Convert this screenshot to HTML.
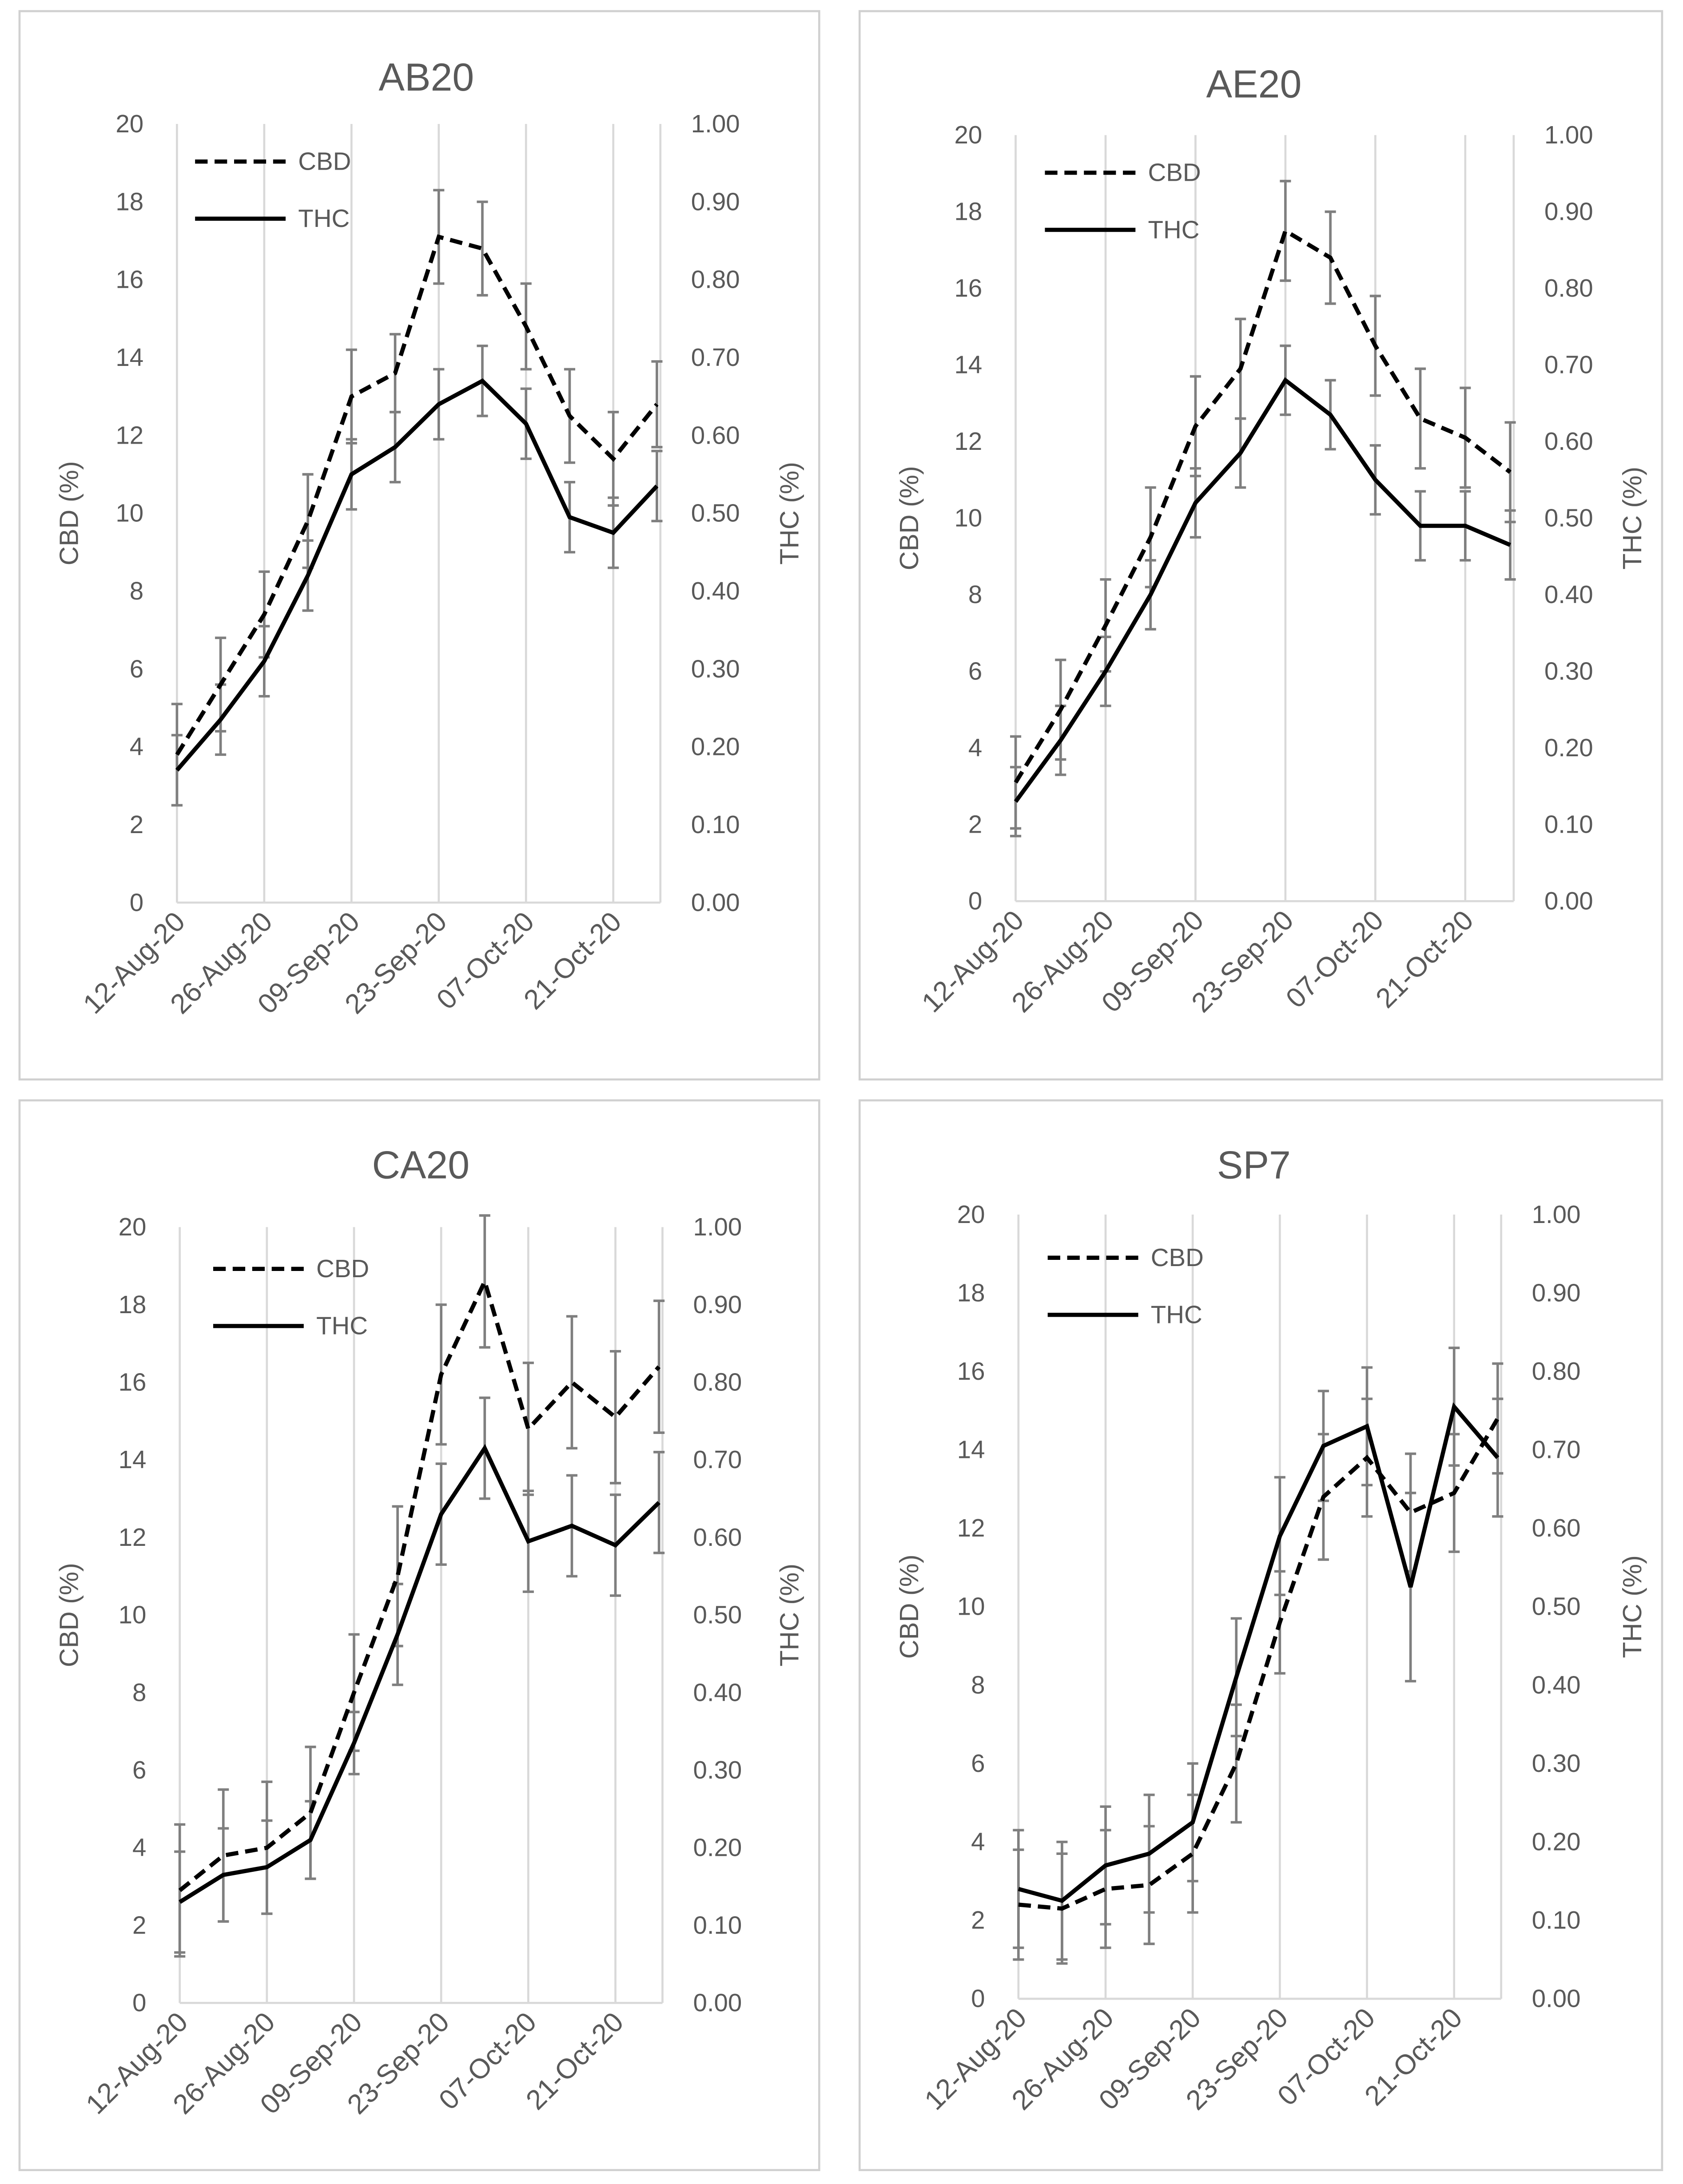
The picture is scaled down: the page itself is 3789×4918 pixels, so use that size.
<!DOCTYPE html>
<html><head><meta charset="utf-8">
<style>
html,body{margin:0;padding:0;background:#fff;}
svg{display:block;font-family:"Liberation Sans",Arial,sans-serif;}
</style></head>
<body>
<svg id="root" width="3789" height="4918" viewBox="0 0 1208 1568" xmlns="http://www.w3.org/2000/svg"></svg>
<script>
// Shared categories
const dates = ["12-Aug-20","19-Aug-20","26-Aug-20","02-Sep-20","09-Sep-20","16-Sep-20","23-Sep-20","30-Sep-20","07-Oct-20","14-Oct-20","21-Oct-20","28-Oct-20"];
const tickLabels = ["12-Aug-20","26-Aug-20","09-Sep-20","23-Sep-20","07-Oct-20","21-Oct-20"];
const cbdTicks = [0,2,4,6,8,10,12,14,16,18,20];
const thcTicks = ["0.00","0.10","0.20","0.30","0.40","0.50","0.60","0.70","0.80","0.90","1.00"];

// AB20
const ab20Cbd = [3.8,5.6,7.4,9.8,13.0,13.6,17.1,16.8,14.8,12.5,11.4,12.8];
const ab20CbdErr = [1.3,1.2,1.1,1.2,1.2,1.0,1.2,1.2,1.1,1.2,1.2,1.1];
const ab20Thc = [0.17,0.235,0.31,0.42,0.55,0.585,0.64,0.67,0.615,0.495,0.475,0.535];
const ab20ThcErr = [0.045,0.045,0.045,0.045,0.045,0.045,0.045,0.045,0.045,0.045,0.045,0.045];
// AE20
const ae20Cbd = [3.1,5.0,7.2,9.5,12.4,13.9,17.5,16.8,14.5,12.6,12.1,11.2];
const ae20CbdErr = [1.2,1.3,1.2,1.3,1.3,1.3,1.3,1.2,1.3,1.3,1.3,1.3];
const ae20Thc = [0.13,0.21,0.30,0.40,0.52,0.585,0.68,0.635,0.55,0.49,0.49,0.465];
const ae20ThcErr = [0.045,0.045,0.045,0.045,0.045,0.045,0.045,0.045,0.045,0.045,0.045,0.045];
// CA20
const ca20Cbd = [2.9,3.8,4.0,4.9,8.0,11.0,16.2,18.6,14.8,16.0,15.1,16.4];
const ca20CbdErr = [1.7,1.7,1.7,1.7,1.5,1.8,1.8,1.7,1.7,1.7,1.7,1.7];
const ca20Thc = [0.13,0.165,0.175,0.21,0.335,0.475,0.63,0.715,0.595,0.615,0.59,0.645];
const ca20ThcErr = [0.065,0.06,0.06,0.05,0.04,0.065,0.065,0.065,0.065,0.065,0.065,0.065];
// SP7
const sp7Cbd = [2.4,2.3,2.8,2.9,3.7,6.0,9.6,12.8,13.8,12.4,12.9,14.8];
const sp7CbdErr = [1.4,1.4,1.5,1.5,1.5,1.5,1.3,1.6,1.5,1.5,1.5,1.4];
const sp7Thc = [0.14,0.125,0.17,0.185,0.225,0.41,0.59,0.705,0.73,0.525,0.755,0.69];
const sp7ThcErr = [0.075,0.075,0.075,0.075,0.075,0.075,0.075,0.07,0.075,0.12,0.075,0.075];

const panels = [
 {name:"AB20", box:[14,8,574,767], x0:127, x1:471.5, yTop:89, yBot:648, title:[306,55], leg:[140,116], cbd:ab20Cbd, cbdE:ab20CbdErr, thc:ab20Thc, thcE:ab20ThcErr},
 {name:"AE20", box:[617,8,576,767], x0:729, x1:1084, yTop:97, yBot:647, title:[900,60], leg:[750,124], cbd:ae20Cbd, cbdE:ae20CbdErr, thc:ae20Thc, thcE:ae20ThcErr},
 {name:"CA20", box:[14,790,574,768], x0:129, x1:473, yTop:881, yBot:1438, title:[302,836], leg:[153,911], cbd:ca20Cbd, cbdE:ca20CbdErr, thc:ca20Thc, thcE:ca20ThcErr},
 {name:"SP7", box:[617,790,576,768], x0:731, x1:1075, yTop:872, yBot:1435, title:[900,836], leg:[752,903], cbd:sp7Cbd, cbdE:sp7CbdErr, thc:sp7Thc, thcE:sp7ThcErr}
];

const NS="http://www.w3.org/2000/svg";
const root=document.getElementById('root');
function mk(tag,attrs,parent,text){
  const e=document.createElementNS(NS,tag);
  for(const k in attrs)e.setAttribute(k,attrs[k]);
  if(text!==undefined)e.textContent=text;
  parent.appendChild(e);return e;
}

panels.forEach(p=>{
  const slug=p.name.toLowerCase();
  const g=mk('g',{},root);
  
  
  const fr=mk('rect',{x:p.box[0],y:p.box[1],width:p.box[2],height:p.box[3],fill:'#fff',stroke:'#d0d0d0','stroke-width':1.5},g);
  
  
  const n=dates.length;
  const step=(p.x1-p.x0)/(n-1);
  const xS=i=>p.x0+i*step;
  const yC=v=>p.yBot-(v/20)*(p.yBot-p.yTop);
  const yT=v=>p.yBot-v*(p.yBot-p.yTop);
  const axisRight=p.x1+2.5;
  for(let i=0;i<n;i+=2){
    const l=mk('line',{x1:xS(i),x2:xS(i),y1:p.yTop,y2:p.yBot,stroke:'#d9d9d9','stroke-width':1.5},g);
    
    
  }
  const ra=mk('line',{x1:axisRight,x2:axisRight,y1:p.yTop,y2:p.yBot,stroke:'#d9d9d9','stroke-width':1.5},g);
  
  
  const xa=mk('line',{x1:p.x0,x2:axisRight,y1:p.yBot,y2:p.yBot,stroke:'#d9d9d9','stroke-width':1.5},g);
  
  
  cbdTicks.forEach(v=>{
    const t=mk('text',{x:p.x0-24,y:yC(v)+6,'text-anchor':'end','font-size':18,fill:'#595959'},g,String(v));
    
    
  });
  thcTicks.forEach((s,i)=>{
    const t=mk('text',{x:axisRight+22,y:yC(i*2)+6,'text-anchor':'start','font-size':18,fill:'#595959'},g,s);
    
    
  });
  tickLabels.forEach((s,k)=>{
    const x=xS(dates.indexOf(s));
    const t=mk('text',{x:x+7,y:p.yBot+15,'text-anchor':'end','font-size':20,fill:'#595959',transform:`rotate(-45 ${x+7} ${p.yBot+15})`},g,s);
    
    
  });
  const my=(p.yTop+p.yBot)/2;
  const lx=p.box[0]+42;
  const at=mk('text',{x:lx,y:my,'text-anchor':'middle','font-size':19,fill:'#595959',transform:`rotate(-90 ${lx} ${my})`},g,'CBD (%)');
  
  
  const rx=p.box[0]+p.box[2]-15;
  const at2=mk('text',{x:rx,y:my,'text-anchor':'middle','font-size':19,fill:'#595959',transform:`rotate(-90 ${rx} ${my})`},g,'THC (%)');
  
  
  const ti=mk('text',{x:p.title[0],y:p.title[1]+10,'text-anchor':'middle','font-size':28,fill:'#595959'},g,p.name);
  
  
  function err(vals,errs,ys,name){
    vals.forEach((v,i)=>{
      const x=xS(i),a=ys(v+errs[i]),b=ys(v-errs[i]);
      const eg=mk('g',{stroke:'#7f7f7f','stroke-width':1.8},g);
      
      
      mk('line',{x1:x,x2:x,y1:a,y2:b},eg);
      mk('line',{x1:x-4,x2:x+4,y1:a,y2:a},eg);
      mk('line',{x1:x-4,x2:x+4,y1:b,y2:b},eg);
    });
  }
  err(p.cbd,p.cbdE,yC,'cbd-error-bar');
  err(p.thc,p.thcE,yT,'thc-error-bar');
  const cl=mk('polyline',{points:p.cbd.map((v,i)=>xS(i)+','+yC(v)).join(' '),fill:'none',stroke:'#000','stroke-width':3,'stroke-dasharray':'9,5'},g);
  
  
  const tl=mk('polyline',{points:p.thc.map((v,i)=>xS(i)+','+yT(v)).join(' '),fill:'none',stroke:'#000','stroke-width':3},g);
  
  
  const [lx0,ly]=p.leg;
  const l1=mk('g',{},g);
  
  
  mk('line',{x1:lx0,x2:lx0+65,y1:ly,y2:ly,stroke:'#000','stroke-width':3,'stroke-dasharray':'9,5'},l1);
  mk('text',{x:lx0+74,y:ly+6,'font-size':18,fill:'#595959'},l1,'CBD');
  const l2=mk('g',{},g);
  
  
  mk('line',{x1:lx0,x2:lx0+65,y1:ly+41,y2:ly+41,stroke:'#000','stroke-width':3},l2);
  mk('text',{x:lx0+74,y:ly+47,'font-size':18,fill:'#595959'},l2,'THC');
});
</script>
</body></html>
